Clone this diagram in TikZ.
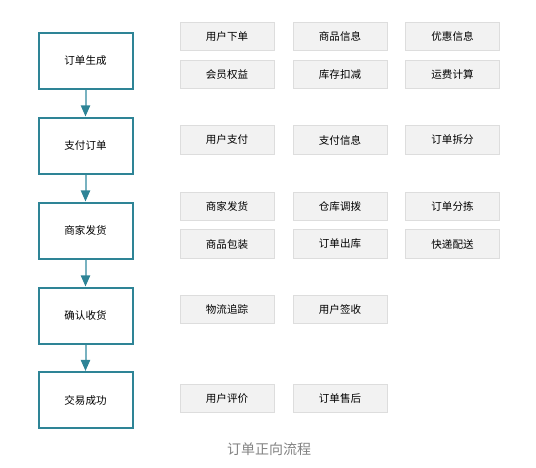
\documentclass[tikz,border=0pt]{standalone}
\usepackage{fontspec}
\setmainfont{Noto Sans CJK SC}
\usetikzlibrary{arrows.meta}
\definecolor{flowteal}{RGB}{46,132,150}
\definecolor{flowline}{RGB}{120,178,192}
\definecolor{stepfill}{RGB}{242,242,242}
\definecolor{stepedge}{RGB}{221,221,221}
\definecolor{captiongray}{RGB}{130,130,130}

\begin{document}
\begin{tikzpicture}
  [x=0.75pt,y=-0.75pt,every node/.style={font=\fontsize{7.9pt}{9pt}\selectfont,inner sep=0pt},
   mainbox/.style={draw=flowteal,line width=1.5pt,fill=white,minimum width=70.5pt,minimum height=42pt},
   subbox/.style={draw=stepedge,line width=0.75pt,fill=stepfill,minimum width=70.5pt,minimum height=21.5pt}]
  \useasboundingbox (0,0) rectangle (536,468);
  % main flow
  \node[mainbox] (m1) at (85.5,60.5)  {订单生成};
  \node[mainbox] (m2) at (85.5,145.5) {支付订单};
  \node[mainbox] (m3) at (85.5,230.5) {商家发货};
  \node[mainbox] (m4) at (85.5,315.5) {确认收货};
  \node[mainbox] (m5) at (85.5,400)   {交易成功};
  \foreach \from/\to in {m1/m2,m2/m3,m3/m4,m4/m5}
    \draw[flowline,line width=1.5pt,-{Triangle[width=6.8pt,length=8.3pt,color=flowteal]}] (\from) -- (\to);
  % steps
  \node[subbox] (s11) at (227,36.5)  {用户下单};
  \node[subbox] (s12) at (340,36.5)  {商品信息};
  \node[subbox] (s13) at (452.5,36.5) {优惠信息};
  \node[subbox] (s14) at (227,74.5)  {会员权益};
  \node[subbox] (s15) at (340,74.5)  {库存扣减};
  \node[subbox] (s16) at (452.5,74.5) {运费计算};
  \node[subbox] (s21) at (227,140)   {用户支付};
  \node[subbox] (s22) at (340,140)   {支付信息};
  \node[subbox] (s23) at (452.5,140) {订单拆分};
  \node[subbox] (s31) at (227,206.5) {商家发货};
  \node[subbox] (s32) at (340,206.5) {仓库调拨};
  \node[subbox] (s33) at (452.5,206.5) {订单分拣};
  \node[subbox] (s34) at (227,244)   {商品包装};
  \node[subbox] (s35) at (340,244)   {订单出库};
  \node[subbox] (s36) at (452.5,244) {快递配送};
  \node[subbox] (s41) at (227,309.5) {物流追踪};
  \node[subbox] (s42) at (340,309.5) {用户签收};
  \node[subbox] (s51) at (227,398.5) {用户评价};
  \node[subbox] (s52) at (340,398.5) {订单售后};
  % caption
  \node[text=captiongray,font=\fontsize{10.5pt}{12pt}\selectfont] (cap) at (269,449) {订单正向流程};
\end{tikzpicture}
\end{document}
